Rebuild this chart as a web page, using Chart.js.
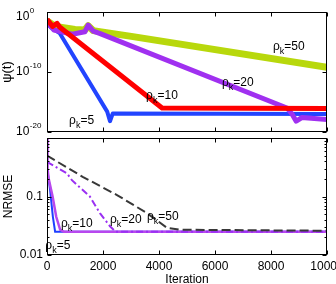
<!DOCTYPE html>
<html>
<head>
<meta charset="utf-8">
<script src="https://cdn.jsdelivr.net/npm/chart.js@4"></script>
<style>
  html, body { margin: 0; padding: 0; background: #fff; overflow: hidden; }
  #wrap { position: relative; width: 336px; height: 284px; overflow: hidden; }
  canvas { position: absolute; left: 0; }
  #top { top: 0; }
  #bottom { top: 137px; }
</style>
</head>
<body>
<div id="wrap">
  <canvas id="top" width="336" height="137"></canvas>
  <canvas id="bottom" width="336" height="150"></canvas>
</div>
<script>
// shared x axis
const iterTicks = [0, 2000, 4000, 6000, 8000, 10000];

// top panel: psi(t), values given as powers of ten
const psiTickExp = [0, -10, -20];
const redIter = [0, 200, 360, 450, 4110, 10000];
const redExp = [-1.2, -2.4, -1.9, -2.5, -16.0, -16.1];
const purpleIter = [0, 250, 900, 1350, 1470, 1650, 1900, 8570, 8750, 8900, 9100, 10000];
const purpleExp = [-1.7, -3.0, -3.7, -3.3, -2.2, -3.2, -3.6, -16.0, -17.0, -18.2, -17.6, -17.9];
const blueIter = [0, 150, 450, 2150, 2250, 2350, 10000];
const blueExp = [-1.8, -2.6, -3.5, -16.6, -18.2, -16.9, -17.0];
const yellowIter = [0, 300, 1000, 1350, 1470, 1650, 3070, 10000];
const yellowExp = [-1.5, -2.4, -2.9, -3.0, -2.3, -3.1, -4.1, -9.2];

// bottom panel: NRMSE
const nrmseTicks = [0.01, 0.1];
const nr5Iter = [0, 40, 110, 210, 290, 10000];
const nr5 = [0.25, 0.23, 0.13, 0.045, 0.025, 0.025];
const nr10Iter = [0, 20, 60, 200, 330, 470, 600, 10000];
const nr10 = [1.0, 0.3, 0.2, 0.1, 0.045, 0.027, 0.025, 0.025];
const nr20Iter = [0, 710, 890, 1530, 1890, 2250, 2450, 10000];
const nr20 = [0.39, 0.25, 0.19, 0.1, 0.052, 0.031, 0.025, 0.025];
const nr50Iter = [0, 1290, 2500, 3570, 4290, 4750, 10000];
const nr50 = [0.5, 0.215, 0.106, 0.052, 0.029, 0.027, 0.026];

const FONT = "'Liberation Sans', Arial, Helvetica, sans-serif";

const pts = (xs, ys) => xs.map((x, i) => ({ x: x, y: ys[i] }));
const pow10 = (xs, es) => xs.map((x, i) => ({ x: x, y: Math.pow(10, es[i]) }));

// rho_k = N labels
function drawRho(ctx, x, y, value) {
    ctx.fillStyle = '#000';
    ctx.textBaseline = 'alphabetic';
    ctx.textAlign = 'left';
    ctx.font = '12px ' + FONT;
    ctx.fillText('ρ', x, y);
    x += ctx.measureText('ρ').width;
    ctx.font = '9px ' + FONT;
    ctx.fillText('k', x, y + 4);
    x += ctx.measureText('k').width;
    ctx.font = '12px ' + FONT;
    ctx.fillText('=' + value, x, y);
}

// box, inward ticks, power labels and curve labels
const framePlugin = {
    id: 'frame',
    afterDraw(chart, args, opts) {
        const { ctx, chartArea: a, scales } = chart;
        const L = Math.round(a.left) + 0.5, R = Math.round(a.right) - 0.5;
        const T = Math.round(a.top) + 0.5, B = Math.round(a.bottom) - 0.5;
        ctx.save();
        ctx.strokeStyle = '#000';
        ctx.lineWidth = 1;
        ctx.beginPath();
        iterTicks.forEach(v => {
            const px = Math.round(scales.x.getPixelForValue(v)) + 0.5;
            ctx.moveTo(px, B); ctx.lineTo(px, B - 4);
            ctx.moveTo(px, T); ctx.lineTo(px, T + 4);
        });
        (opts.yMajor || []).forEach(v => {
            const py = Math.round(scales.y.getPixelForValue(v)) + 0.5;
            ctx.moveTo(L, py); ctx.lineTo(L + 4, py);
            ctx.moveTo(R, py); ctx.lineTo(R - 4, py);
        });
        (opts.yMinor || []).forEach(v => {
            const py = Math.round(scales.y.getPixelForValue(v)) + 0.5;
            ctx.moveTo(L, py); ctx.lineTo(L + 2, py);
            ctx.moveTo(R, py); ctx.lineTo(R - 2, py);
        });
        ctx.stroke();
        ctx.strokeRect(L, T, R - L, B - T);

        if (opts.powerLabels) {
            opts.powerLabels.forEach(e => {
                let py = scales.y.getPixelForValue(Math.pow(10, e));
                py = Math.max(py, 17);
                const sup = e === 0 ? '0' : '-' + Math.abs(e);
                const left = 16;
                ctx.fillStyle = '#000';
                ctx.textAlign = 'left';
                ctx.textBaseline = 'middle';
                ctx.font = '12px ' + FONT;
                ctx.fillText('10', left, py);
                const bw = ctx.measureText('10').width;
                ctx.font = '8px ' + FONT;
                ctx.fillText(sup, left + bw + 0.5, py - 6);
            });
        }
        (opts.labels || []).forEach(l => {
            drawRho(ctx, scales.x.getPixelForValue(l.x), scales.y.getPixelForValue(l.y), l.text);
        });
        ctx.restore();
    }
};

const noPad = scale => { scale.paddingLeft = 0; scale.paddingRight = 0; scale.paddingTop = 0; scale.paddingBottom = 0; };

// ============================================
// Top: psi(t)
// ============================================
new Chart(document.getElementById('top').getContext('2d'), {
    type: 'line',
    plugins: [framePlugin],
    data: {
        datasets: [
            { data: pow10(redIter, redExp), borderColor: '#ff0000', borderWidth: 5 },
            { data: pow10(purpleIter, purpleExp), borderColor: '#a030f0', borderWidth: 5 },
            { data: pow10(blueIter, blueExp), borderColor: '#2244ff', borderWidth: 4 },
            { data: pow10(yellowIter, yellowExp), borderColor: '#b8d80c', borderWidth: 7 }
        ]
    },
    options: {
        responsive: false,
        animation: false,
        devicePixelRatio: 1,
        layout: { padding: { top: 12, right: 9, bottom: 5, left: 0 } },
        elements: { point: { radius: 0 }, line: { tension: 0, borderJoinStyle: 'round' } },
        plugins: {
            legend: { display: false },
            tooltip: { enabled: false },
            frame: {
                yMajor: psiTickExp.map(e => Math.pow(10, e)),
                powerLabels: psiTickExp,
                labels: [
                    { x: 8070, y: Math.pow(10, -6.33), text: '50' },
                    { x: 6250, y: Math.pow(10, -12.33), text: '20' },
                    { x: 3540, y: Math.pow(10, -14.5), text: '10' },
                    { x: 790, y: Math.pow(10, -18.67), text: '5' }
                ]
            }
        },
        scales: {
            x: {
                type: 'linear', min: 0, max: 10000,
                grid: { display: false, drawTicks: false },
                border: { display: false },
                ticks: { display: false },
                afterFit: s => { s.height = 0; noPad(s); }
            },
            y: {
                type: 'logarithmic', min: 1e-20, max: 1,
                grid: { display: false, drawTicks: false },
                border: { display: false },
                ticks: { display: false },
                title: { display: true, text: 'ψ(t)', color: '#000', font: { family: FONT, size: 13 }, padding: { top: 0, bottom: 0 } },
                afterFit: s => { s.width = 47; noPad(s); }
            }
        }
    }
});

// ============================================
// Bottom: NRMSE
// ============================================
const minorNrmse = [];
[0.01, 0.1].forEach(d => { for (let m = 2; m <= 9; m++) minorNrmse.push(d * m); });

new Chart(document.getElementById('bottom').getContext('2d'), {
    type: 'line',
    plugins: [framePlugin],
    data: {
        datasets: [
            { data: pts(nr50Iter, nr50), borderColor: '#383838', borderWidth: 2, borderDash: [9, 4] },
            { data: pts(nr20Iter, nr20), borderColor: '#9a30f2', borderWidth: 2, borderDash: [7, 3, 2, 3] },
            { data: pts(nr10Iter, nr10), borderColor: '#b848ee', borderWidth: 2.5 },
            { data: pts(nr5Iter, nr5), borderColor: '#1f3fff', borderWidth: 2 }
        ]
    },
    options: {
        responsive: false,
        animation: false,
        devicePixelRatio: 1,
        layout: { padding: { top: 1, right: 9, bottom: 0, left: 0 } },
        elements: { point: { radius: 0 }, line: { tension: 0 } },
        plugins: {
            legend: { display: false },
            tooltip: { enabled: false },
            frame: {
                yMajor: nrmseTicks,
                yMinor: minorNrmse,
                labels: [
                    { x: 500, y: 0.030, text: '10' },
                    { x: 2250, y: 0.0355, text: '20' },
                    { x: 3570, y: 0.0396, text: '50' },
                    { x: -60, y: 0.0127, text: '5' }
                ]
            }
        },
        scales: {
            x: {
                type: 'linear', min: 0, max: 10000,
                afterBuildTicks: s => { s.ticks = iterTicks.map(v => ({ value: v })); },
                grid: { display: false, drawTicks: false },
                border: { display: false },
                ticks: { color: '#000', font: { family: FONT, size: 12 }, padding: 4, maxRotation: 0, autoSkip: false, callback: v => String(v) },
                title: { display: true, text: 'Iteration', color: '#000', font: { family: FONT, size: 12 }, padding: { top: 0, bottom: 0 } },
                afterFit: s => { s.height = 32; noPad(s); }
            },
            y: {
                type: 'logarithmic', min: 0.01, max: 1,
                afterBuildTicks: s => { s.ticks = nrmseTicks.map(v => ({ value: v })); },
                grid: { display: false, drawTicks: false },
                border: { display: false },
                ticks: { color: '#000', font: { family: FONT, size: 12 }, padding: 4, autoSkip: false, callback: v => String(v) },
                title: { display: true, text: 'NRMSE', color: '#000', font: { family: FONT, size: 12 }, padding: { top: 1, bottom: 0 } },
                afterFit: s => { s.width = 47; noPad(s); }
            }
        }
    }
});
</script>
</body>
</html>
